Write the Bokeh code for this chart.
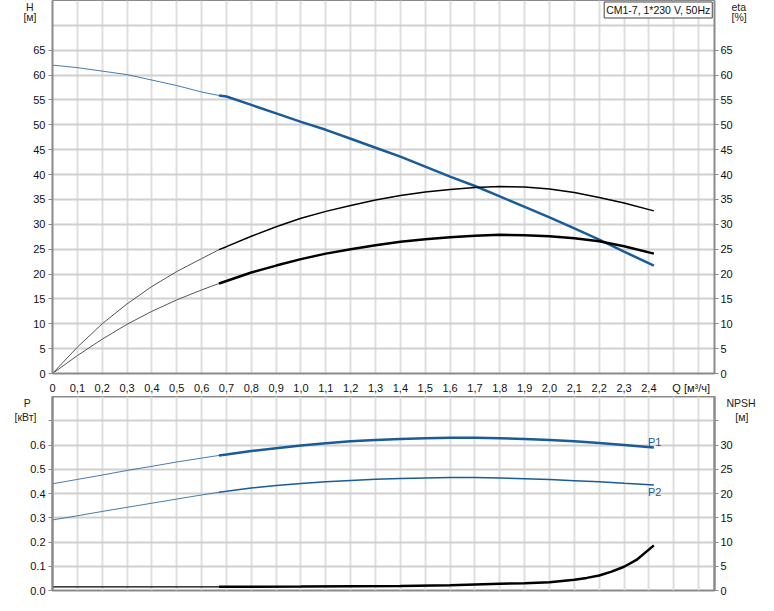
from bokeh.plotting import figure
from bokeh.models import Range1d, LinearAxis, FixedTicker, Label, Grid
from bokeh.layouts import column
from bokeh.embed import file_html
from bokeh.resources import INLINE

# ---------------- data ----------------
q = [0, 0.1, 0.2, 0.3, 0.4, 0.5, 0.6, 0.67, 0.7, 0.8, 0.9, 1.0, 1.1, 1.2, 1.3,
     1.4, 1.5, 1.6, 1.7, 1.8, 1.9, 2.0, 2.1, 2.2, 2.3, 2.42]
head = [62.0, 61.5, 60.8, 60.1, 59.0, 57.9, 56.6, 55.9, 55.7, 54.0, 52.3, 50.6, 49.0,
        47.2, 45.4, 43.6, 41.6, 39.6, 37.7, 35.6, 33.5, 31.4, 29.2, 26.9, 24.5, 21.7]
eta_pump = [0, 5.3, 10.0, 14.0, 17.5, 20.5, 23.1, 24.9, 25.5, 27.6, 29.5, 31.2, 32.6,
            33.8, 34.9, 35.8, 36.5, 37.0, 37.4, 37.6, 37.5, 37.1, 36.4, 35.4, 34.3, 32.7]
eta_total = [0, 3.6, 6.9, 9.9, 12.5, 14.8, 16.8, 18.1, 18.6, 20.3, 21.7, 23.0, 24.1,
             25.0, 25.8, 26.5, 27.0, 27.4, 27.7, 27.9, 27.8, 27.6, 27.2, 26.6, 25.6, 24.1]
p1 = [0.440, 0.458, 0.476, 0.495, 0.512, 0.530, 0.546, 0.557, 0.561, 0.575, 0.587, 0.598,
      0.607, 0.615, 0.621, 0.625, 0.628, 0.630, 0.630, 0.628, 0.625, 0.621, 0.615, 0.608,
      0.600, 0.590]
p2 = [0.291, 0.308, 0.326, 0.343, 0.360, 0.377, 0.394, 0.405, 0.409, 0.423, 0.433, 0.441,
      0.448, 0.454, 0.459, 0.462, 0.464, 0.466, 0.466, 0.464, 0.461, 0.458, 0.453, 0.448,
      0.442, 0.435]
q_npsh = [0, 0.3, 0.67, 0.8, 1.0, 1.2, 1.4, 1.6, 1.7, 1.8, 1.9, 2.0, 2.1, 2.15, 2.2,
          2.25, 2.3, 2.35, 2.42]
npsh = [0.75, 0.75, 0.75, 0.76, 0.8, 0.87, 0.95, 1.1, 1.25, 1.38, 1.5, 1.7, 2.2, 2.6,
        3.1, 3.9, 4.9, 6.3, 9.3]

q_ticks = [round(i * 0.1, 1) for i in range(0, 25)]
q_grid = [round(i * 0.1, 1) for i in range(1, 27)]
q_tick_labels = ["0"] + [("%.1f" % t).replace(".", ",") for t in q_ticks[1:]]
q_axis_label = "Q [м³/ч]"
h_ticks = list(range(0, 70, 5))
h_grid = list(range(5, 75, 5))
p_ticks = [round(i * 0.1, 1) for i in range(0, 8)]
p_tick_labels = ["%.1f" % t for t in p_ticks[:-1]] + [""]
npsh_ticks = list(range(0, 40, 5))
npsh_tick_labels = [str(t) for t in npsh_ticks[:-1]] + [""]
h_unit = ["H\u00a0", "[м]"]
eta_unit = ["eta", "[%]"]
p_unit = ["P\u00a0\u00a0", "[кВт]"]
npsh_unit = ["NPSH", "\u00a0\u00a0\u00a0[м]"]
title_text = "CM1-7, 1*230 V, 50Hz"

SPLIT = q.index(0.67)
NSPLIT = q_npsh.index(0.67)

BLUE = "#1a5b9a"
AX = "#8a8a8a"
FONT = "Liberation Sans"
W = 758
XMAX = 2.664
H_TOP = 396      # frame 377 + 19 for x labels
H_BOT = 199      # frame 194 + 5


def style_axis(ax, side):
    ax.axis_line_color = AX
    ax.axis_line_width = 2
    ax.major_tick_line_color = AX
    ax.major_tick_line_width = 1
    ax.major_tick_out = 4
    ax.major_tick_in = 0
    ax.minor_tick_line_color = None
    ax.major_label_text_font = FONT
    ax.major_label_text_font_size = "11px"
    ax.major_label_text_color = "#111111"
    ax.major_label_standoff = 3 if side == "left" else 2


def unit_axis(p, side, ticks, labels, standoff, y_range_name="default"):
    ax = LinearAxis(y_range_name=y_range_name, ticker=FixedTicker(ticks=ticks))
    ax.major_label_overrides = {t: l for t, l in zip(ticks, labels)}
    ax.axis_line_color = None
    ax.major_tick_line_color = None
    ax.minor_tick_line_color = None
    ax.major_tick_out = 0
    ax.major_tick_in = 0
    ax.major_label_standoff = standoff
    ax.major_label_text_font = FONT
    ax.major_label_text_font_size = "10.5px"
    ax.major_label_text_color = "#222222"
    p.add_layout(ax, side)


def add_grids(p, xg, yg):
    p.add_layout(Grid(dimension=0, ticker=FixedTicker(ticks=xg),
                      grid_line_color="#dedede", grid_line_width=2, level="underlay"))
    p.add_layout(Grid(dimension=1, ticker=FixedTicker(ticks=yg),
                      grid_line_color="#d0d0d0", grid_line_width=2, level="underlay"))


# ---------------- top panel: H / eta ----------------
top = figure(width=W, height=H_TOP, x_range=Range1d(0, XMAX), y_range=Range1d(0, 75),
             output_backend="svg", toolbar_location=None, title=None,
             min_border_left=52, min_border_right=40, min_border_top=0,
             min_border_bottom=19, background_fill_color="white",
             border_fill_color="white")
top.extra_y_ranges = {"eta": Range1d(0, 75)}
top.xgrid.grid_line_color = None
top.ygrid.grid_line_color = None
top.outline_line_color = AX
top.outline_line_width = 1
add_grids(top, q_grid, h_grid)

xa = top.xaxis[0]
style_axis(xa, "bottom")
xa.ticker = FixedTicker(ticks=q_ticks + [2.57])
ov = {t: l for t, l in zip(q_ticks, q_tick_labels)}
ov[2.57] = q_axis_label
xa.major_label_overrides = ov
xa.major_tick_line_color = None
xa.major_label_standoff = 4

ya = top.yaxis[0]
style_axis(ya, "left")
ya.ticker = FixedTicker(ticks=h_ticks)
eta_axis = LinearAxis(y_range_name="eta", ticker=FixedTicker(ticks=h_ticks))
style_axis(eta_axis, "right")
top.add_layout(eta_axis, "right")
unit_axis(top, "left", [74.0, 71.6], h_unit, -6)
unit_axis(top, "right", [74.0, 71.6], eta_unit, -4, "eta")

# thin (outside operating range) and thick parts of the curves
top.line(q[:SPLIT + 1], head[:SPLIT + 1], line_color=BLUE, line_width=1, line_alpha=0.8)
top.line(q[SPLIT:], head[SPLIT:], line_color=BLUE, line_width=2.5)
top.line(q[:SPLIT + 1], eta_pump[:SPLIT + 1], line_color="#555555", line_width=1,
         y_range_name="eta")
top.line(q[SPLIT:], eta_pump[SPLIT:], line_color="black", line_width=1.5, y_range_name="eta")
top.line(q[:SPLIT + 1], eta_total[:SPLIT + 1], line_color="#555555", line_width=1,
         y_range_name="eta")
top.line(q[SPLIT:], eta_total[SPLIT:], line_color="black", line_width=2.5, y_range_name="eta")

top.add_layout(Label(x=2.655, y=74.7, text=title_text, text_font=FONT,
                     text_font_size="10.5px", text_color="#111111", text_align="right",
                     text_baseline="top", padding=2, border_line_color="#444444",
                     border_line_width=1, background_fill_color="white"))

# ---------------- bottom panel: P / NPSH ----------------
bot = figure(width=W, height=H_BOT, x_range=top.x_range, y_range=Range1d(0, 0.8),
             output_backend="svg", toolbar_location=None, title=None,
             x_axis_location=None, min_border_left=52, min_border_right=40,
             min_border_top=0, min_border_bottom=5, background_fill_color="white",
             border_fill_color="white")
bot.extra_y_ranges = {"npsh": Range1d(0, 40)}
bot.xgrid.grid_line_color = None
bot.ygrid.grid_line_color = None
bot.outline_line_color = AX
bot.outline_line_width = 2
add_grids(bot, q_grid, p_ticks[1:])

pa = bot.yaxis[0]
style_axis(pa, "left")
pa.ticker = FixedTicker(ticks=p_ticks)
pa.major_label_overrides = {t: l for t, l in zip(p_ticks, p_tick_labels)}
na = LinearAxis(y_range_name="npsh", ticker=FixedTicker(ticks=npsh_ticks))
style_axis(na, "right")
na.major_label_overrides = {t: l for t, l in zip(npsh_ticks, npsh_tick_labels)}
bot.add_layout(na, "right")
unit_axis(bot, "left", [0.778, 0.715], p_unit, -9)
unit_axis(bot, "right", [38.9, 35.7], npsh_unit, -9, "npsh")

bot.line(q[:SPLIT + 1], p1[:SPLIT + 1], line_color=BLUE, line_width=1, line_alpha=0.8)
bot.line(q[SPLIT:], p1[SPLIT:], line_color=BLUE, line_width=2.5)
bot.line(q[:SPLIT + 1], p2[:SPLIT + 1], line_color=BLUE, line_width=1, line_alpha=0.8)
bot.line(q[SPLIT:], p2[SPLIT:], line_color=BLUE, line_width=1.5)
bot.line(q_npsh[:NSPLIT + 1], npsh[:NSPLIT + 1], line_color="black", line_width=1.2,
         y_range_name="npsh")
bot.line(q_npsh[NSPLIT:], npsh[NSPLIT:], line_color="black", line_width=2.5,
         y_range_name="npsh")

bot.add_layout(Label(x=2.396, y=0.613, text="P1", text_font=FONT, text_font_size="11px",
                     text_color=BLUE, text_align="left", text_baseline="middle"))
bot.add_layout(Label(x=2.396, y=0.405, text="P2", text_font=FONT, text_font_size="11px",
                     text_color=BLUE, text_align="left", text_baseline="middle"))

layout = column(top, bot, spacing=0)
open("out.html", "w").write(file_html(layout, INLINE))
